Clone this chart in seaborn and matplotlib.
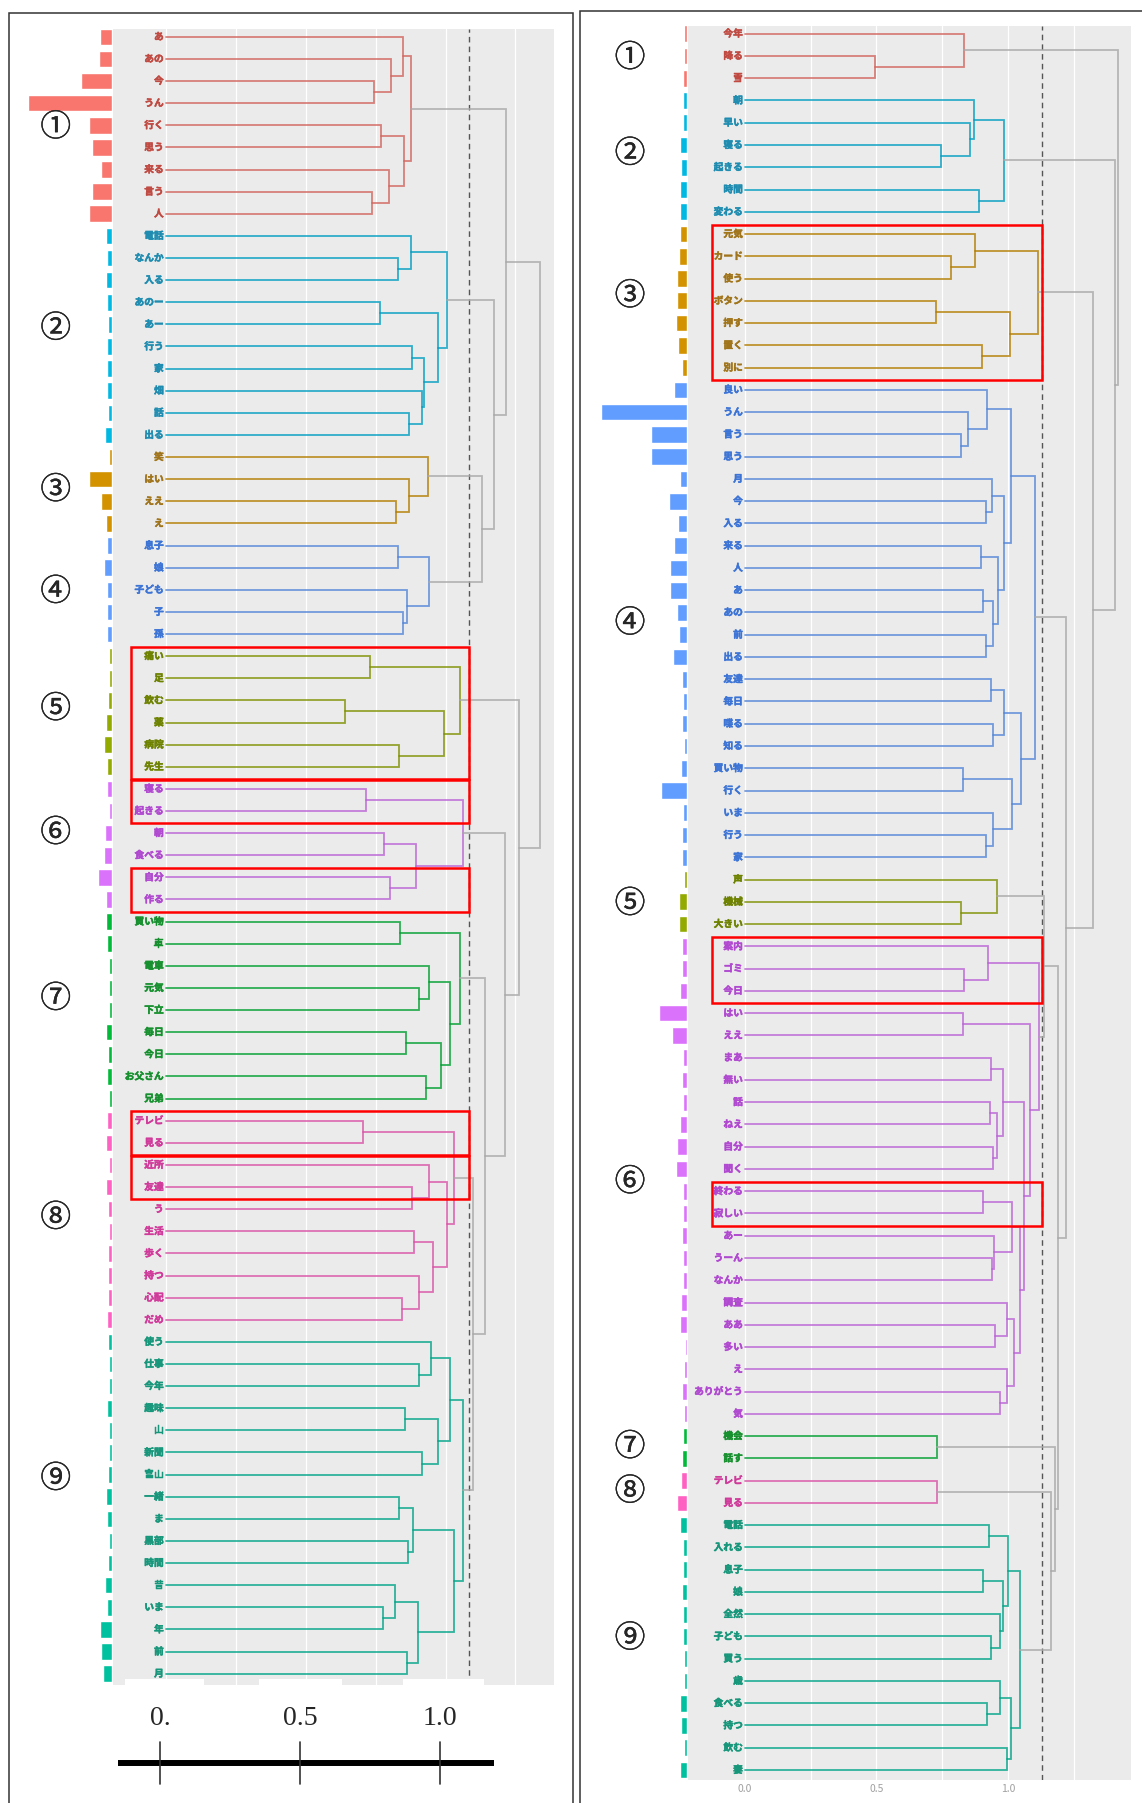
import numpy as np
import pandas as pd
import seaborn as sns
import matplotlib.pyplot as plt
import matplotlib.colors as mcolors
import matplotlib.patheffects as pe
from matplotlib.patches import Rectangle
from matplotlib.transforms import blended_transform_factory

sns.set_style("white")
plt.rcParams["font.family"] = ["Noto Sans CJK JP", "DejaVu Sans"]

W, H = 1142, 1803

CLUSTER_COLORS = ["#F8766D", "#00B9E3", "#D39200", "#619CFF", "#93AA00",
                  "#DB72FB", "#00BA38", "#FF61C3", "#00C19F"]
TEXT_COLORS = ["#C04A42", "#1E8CB0", "#A0741A", "#3C74D6", "#6E8200",
               "#B048D0", "#16902E", "#D03A9A", "#16967A"]
CIRCLED = ["①", "②", "③", "④", "⑤", "⑥", "⑦", "⑧", "⑨"]
GRAY_LINK = "#A8A8A8"

# ---------------- left dendrogram ----------------
left_words = [
    ["あ", "あの", "今", "うん", "行く", "思う", "来る", "言う", "人"],
    ["電話", "なんか", "入る", "あのー", "あー", "行う", "家", "畑", "話", "出る"],
    ["笑", "はい", "ええ", "え"],
    ["息子", "娘", "子ども", "子", "孫"],
    ["痛い", "足", "飲む", "薬", "病院", "先生"],
    ["寝る", "起きる", "朝", "食べる", "自分", "作る"],
    ["買い物", "車", "電車", "元気", "下立", "毎日", "今日", "お父さん", "兄弟"],
    ["テレビ", "見る", "近所", "友達", "う", "生活", "歩く", "持つ", "心配", "だめ"],
    ["使う", "仕事", "今年", "趣味", "山", "新聞", "富山", "一緒", "ま", "黒部",
     "時間", "昔", "いま", "年", "前", "月"],
]
left_counts = [
    [16, 18, 42, 115, 32, 27, 15, 27, 32],
    [9, 7, 8, 7, 6, 7, 7, 7, 6, 10],
    [5, 32, 15, 9],
    [7, 11, 7, 7, 7],
    [5, 4, 6, 8, 11, 7],
    [7, 4, 10, 11, 19, 8],
    [9, 7, 5, 4, 5, 9, 6, 7, 4],
    [7, 9, 5, 9, 6, 4, 6, 6, 6, 7],
    [6, 5, 5, 7, 5, 4, 6, 8, 7, 5, 6, 10, 7, 17, 15, 12],
]
# merge tree: (height, left, right)
L1 = (0.877, (0.847, "あ", (0.804, "あの", (0.744, "今", "うん"))),
      (0.850, (0.770, "行く", "思う"), (0.797, "来る", (0.736, "言う", "人"))))
L2 = (1.005, (0.877, "電話", (0.829, "なんか", "入る")),
      (0.974, (0.767, "あのー", "あー"),
       (0.923, (0.880, "行う", "家"), (0.915, "畑", (0.871, "話", "出る")))))
L3 = (0.936, "笑", (0.869, "はい", (0.822, "ええ", "え")))
L4 = (0.942, (0.830, "息子", "娘"), (0.862, "子ども", (0.847, "子", "孫")))
L5 = (1.051, (0.729, "痛い", "足"), (0.994, (0.640, "飲む", "薬"), (0.833, "病院", "先生")))
L6 = (1.064, (0.715, "寝る", "起きる"), (0.893, (0.780, "朝", "食べる"), (0.800, "自分", "作る")))
L7 = (1.053, (0.838, "買い物", "車"),
      (1.015, (0.942, "電車", (0.906, "元気", "下立")),
       (0.984, (0.860, "毎日", "今日"), (0.932, "お父さん", "兄弟"))))
L8 = (1.031, (0.704, "テレビ", "見る"),
      (1.005, (0.940, "近所", (0.880, "友達", "う")),
       (0.956, (0.889, "生活", "歩く"), (0.904, "持つ", (0.846, "心配", "だめ")))))
L9 = (1.062,
      (1.015, (0.947, "使う", (0.906, "仕事", "今年")),
       (0.973, (0.856, "趣味", "山"), (0.917, "新聞", "富山"))),
      (1.032, (0.884, (0.833, "一緒", "ま"), (0.867, "黒部", "時間")),
       (0.900, (0.821, "昔", (0.778, "いま", "年")), (0.863, "前", "月"))))
left_tree = (1.338, (1.217, L1, (1.175, L2, (1.132, L3, L4))),
             (1.263, L5, (1.212, L6, (1.142, L7, (1.100, L8, L9)))))
left_cut = 1.085
left_boxes = [("痛い", "先生"), ("寝る", "起きる"), ("自分", "作る"),
              ("テレビ", "見る"), ("近所", "友達")]

# ---------------- right dendrogram ----------------
right_words = [
    ["今年", "降る", "雪"],
    ["朝", "早い", "寝る", "起きる", "時間", "変わる"],
    ["元気", "カード", "使う", "ボタン", "押す", "置く", "別に"],
    ["良い", "うん", "言う", "思う", "月", "今", "入る", "来る", "人", "あ", "あの",
     "前", "出る", "友達", "毎日", "喋る", "知る", "買い物", "行く", "いま", "行う", "家"],
    ["声", "機械", "大きい"],
    ["案内", "ゴミ", "今日", "はい", "ええ", "まあ", "無い", "話", "ねえ", "自分", "聞く",
     "終わる", "寂しい", "あー", "うーん", "なんか", "調査", "ああ", "多い", "え",
     "ありがとう", "気"],
    ["機会", "話す"],
    ["テレビ", "見る"],
    ["電話", "入れる", "息子", "娘", "全然", "子ども", "買う", "歳", "食べる", "持つ",
     "飲む", "妻"],
]
right_counts = [
    [5, 5, 6],
    [6, 6, 10, 9, 10, 11],
    [10, 12, 14, 14, 16, 13, 8],
    [19, 119, 51, 50, 11, 25, 13, 18, 24, 24, 15, 12, 20, 7, 6, 8, 5, 9, 36, 6, 8, 8],
    [5, 12, 12],
    [8, 7, 10, 40, 22, 6, 7, 6, 10, 14, 16, 6, 6, 7, 6, 6, 9, 10, 4, 5, 7, 5],
    [6, 7],
    [9, 15],
    [11, 6, 6, 7, 6, 6, 5, 5, 10, 9, 5, 10],
]
R1 = (0.832, "今年", (0.494, "降る", "雪"))
R2 = (0.986, (0.872, "朝", (0.857, "早い", (0.746, "寝る", "起きる"))), (0.890, "時間", "変わる"))
R3 = (1.114, (0.875, "元気", (0.784, "カード", "使う")),
      (1.007, (0.726, "ボタン", "押す"), (0.902, "置く", "別に")))
R4 = (1.103,
      (1.011, (0.919, "良い", (0.850, "うん", (0.820, "言う", "思う"))),
       (0.986, (0.941, "月", (0.916, "今", "入る")),
        (0.963, (0.896, "来る", "人"), (0.942, (0.905, "あ", "あの"), (0.916, "前", "出る"))))),
      (1.048, (0.986, (0.935, "友達", "毎日"), (0.944, "喋る", "知る")),
       (1.017, (0.829, "買い物", "行く"), (0.942, "いま", (0.916, "行う", "家")))))
R5 = (0.960, "声", (0.823, "機械", "大きい"))
R6 = (1.117, (0.923, "案内", (0.832, "ゴミ", "今日")),
      (1.084, (0.828, "はい", "ええ"),
       (1.063, (0.981, (0.935, "まあ", "無い"), (0.959, (0.931, "話", "ねえ"), (0.942, "自分", "聞く"))),
        (1.047, (1.015, (0.906, "終わる", "寂しい"), (0.946, "あー", (0.938, "うーん", "なんか"))),
         (1.022, (0.995, "調査", (0.952, "ああ", "多い")), (0.996, "え", (0.971, "ありがとう", "気")))))))
R7 = (0.732, "機会", "話す")
R8 = (0.729, "テレビ", "見る")
R9 = (1.045,
      (0.999, (0.930, "電話", "入れる"),
       (0.981, (0.907, "息子", "娘"), (0.970, "全然", (0.935, "子ども", "買う")))),
      (1.012, (0.971, "歳", (0.920, "食べる", "持つ")), (0.995, "飲む", "妻")))
right_tree = (1.420, R1, (1.406, R2, (1.325, R3, (1.220, R4,
              (1.191, (1.139, R5, R6), (1.179, R7, (1.165, R8, R9)))))))
right_cut = 1.128
right_boxes = [("元気", "別に"), ("案内", "今日"), ("終わる", "寂しい")]

# ---------------- layout (pixels) ----------------
LEFT_LAYOUT = dict(gray=(113, 29, 553.7, 1685), leaf0=36.8, step=22.12, zero=166,
                   unit=279.5, bar_right=112.2, bar_px=0.7333, num_x=55.7,
                   num_pos=[4.1, 13.2, 20.5, 25.1, 30.4, 36.0, 43.5, 53.4, 65.2])
RIGHT_LAYOUT = dict(gray=(688.2, 26, 1130.8, 1780), leaf0=33.7, step=22.26, zero=745,
                    unit=262.9, bar_right=687.5, bar_px=0.7233, num_x=630,
                    num_pos=[1.1, 5.4, 11.8, 26.5, 39.1, 51.6, 63.5, 65.5, 72.1])

fig = plt.figure(figsize=(W / 100, H / 100), dpi=100)


def px_axes(x0, y0, x1, y1):
    return fig.add_axes([x0 / W, 1 - y1 / H, (x1 - x0) / W, (y1 - y0) / H])


def leaf_order(node):
    if isinstance(node, str):
        return [node]
    return leaf_order(node[1]) + leaf_order(node[2])


def draw_tree(ax, node, pos, cl_of, line_cols):
    if isinstance(node, str):
        return pos[node], 0.0, {cl_of[node]}
    h, a, b = node
    ya, ha, ca = draw_tree(ax, a, pos, cl_of, line_cols)
    yb, hb, cb = draw_tree(ax, b, pos, cl_of, line_cols)
    cs = ca | cb
    col = line_cols[next(iter(cs))] if len(cs) == 1 else GRAY_LINK
    ax.plot([ha, h, h, hb], [ya, ya, yb, yb], color=col, lw=1.3, alpha=0.8,
            solid_joinstyle="miter", zorder=3)
    return (ya + yb) / 2, h, cs


def draw_panel(lay, words_by_cl, counts_by_cl, tree, cut, boxes, show_ticks):
    words = [w for grp in words_by_cl for w in grp]
    counts = [c for grp in counts_by_cl for c in grp]
    clusters = [k for k, grp in enumerate(words_by_cl) for _ in grp]
    assert leaf_order(tree) == words
    pos = {w: i for i, w in enumerate(words)}
    cl_of = dict(zip(words, clusters))

    gx0, gy0, gx1, gy1 = lay["gray"]
    ylim = ((gy1 - lay["leaf0"]) / lay["step"], (gy0 - lay["leaf0"]) / lay["step"])
    xlim = ((gx0 - lay["zero"]) / lay["unit"], (gx1 - lay["zero"]) / lay["unit"])

    # dendrogram
    ax = px_axes(gx0, gy0, gx1, gy1)
    ax.set_facecolor("#EBEBEB")
    line_cols = [tuple(np.array(mcolors.to_rgb(c)) * 0.85) for c in CLUSTER_COLORS]
    draw_tree(ax, tree, pos, cl_of, line_cols)
    for i, w in enumerate(words):
        col = TEXT_COLORS[clusters[i]]
        ax.text(-0.008, i, w, ha="right", va="center", fontsize=7, fontweight="bold",
                color=col, zorder=4,
                path_effects=[pe.withStroke(linewidth=0.35, foreground=col)])
    ax.axvline(cut, color="#555555", lw=1.0, ls=(0, (4, 3)), zorder=2)
    for a, b in boxes:
        y0, y1 = pos[a] - 0.42, pos[b] + 0.55
        ax.add_patch(Rectangle((-0.125, y0), cut + 0.125, y1 - y0, fill=False,
                               edgecolor="red", lw=1.8, zorder=6, clip_on=False))
    ax.set_xlim(xlim)
    ax.set_ylim(ylim)
    ax.set_xticks([0, 0.5, 1.0])
    ax.set_xticks([0.25, 0.75, 1.25], minor=True)
    ax.set_yticks([])
    ax.grid(True, which="both", axis="x", color="white", lw=0.9, zorder=0)
    ax.set_axisbelow(True)
    for s in ax.spines.values():
        s.set_visible(False)
    if show_ticks:
        ax.set_xticklabels(["0.0", "0.5", "1.0"], color="#A0A0A0", fontsize=7.5)
        ax.tick_params(axis="x", which="both", length=0, pad=3)
    else:
        ax.tick_params(axis="x", which="both", length=0, labelbottom=False)

    # frequency bars
    bw = 100
    bax = px_axes(lay["bar_right"] - bw, gy0, lay["bar_right"], gy1)
    df = pd.DataFrame({"word": words, "count": counts,
                       "cluster": [str(k) for k in clusters]})
    pal = {str(k): c for k, c in enumerate(CLUSTER_COLORS)}
    sns.barplot(data=df, x="count", y="word", hue="cluster", palette=pal, order=words,
                hue_order=[str(k) for k in range(9)], orient="h", dodge=False,
                width=0.75, saturation=1, legend=False, ax=bax)
    bax.set_xlim(bw / lay["bar_px"], 0)
    bax.set_ylim(ylim)
    bax.axis("off")

    tr = blended_transform_factory(fig.transFigure, bax.transData)
    for k, p in enumerate(lay["num_pos"]):
        bax.text(lay["num_x"] / W, p, CIRCLED[k], transform=tr, ha="center", va="center",
                 fontsize=22, family=["DejaVu Serif", "Noto Sans CJK JP"], clip_on=False,
                 path_effects=[pe.withStroke(linewidth=0.25, foreground="black")])
    return ax


left_ax = draw_panel(LEFT_LAYOUT, left_words, left_counts, left_tree, left_cut,
                     left_boxes, show_ticks=False)
right_ax = draw_panel(RIGHT_LAYOUT, right_words, right_counts, right_tree, right_cut,
                      right_boxes, show_ticks=True)

# hand-drawn style scale under the left panel
hax = px_axes(113, 1688, 553.7, 1800)
hax.set_xlim(left_ax.get_xlim())
hax.set_ylim(1800, 1688)
hax.axis("off")
hax.plot([-0.172, 1.172], [1763, 1763], color="black", lw=4.3, solid_capstyle="butt")
for t, lab in zip([0.0, 0.5, 1.0], ["0.", "0.5", "1.0"]):
    hax.plot([t - 0.02, t - 0.02], [1742, 1784], color="#333333", lw=1.2)
    hax.text(t - 0.02, 1718, lab, ha="center", va="center", fontsize=20,
             family=["Liberation Serif", "DejaVu Serif"])

# white patches covering the old tick labels, and the two frames
for x0, x1 in [(125, 204), (259, 342), (403, 484)]:
    fig.add_artist(Rectangle((x0 / W, 1 - 1687 / H), (x1 - x0) / W, 8 / H,
                             transform=fig.transFigure, facecolor="white",
                             edgecolor="none", zorder=5))
fig.add_artist(Rectangle((8.8 / W, 1 - 1812 / H), (573 - 8.8) / W, (1812 - 12.7) / H,
                         transform=fig.transFigure, fill=False, edgecolor="#333333",
                         lw=1.1, zorder=6))
fig.add_artist(Rectangle((580.4 / W, 1 - 1812 / H), (1150 - 580.4) / W, (1812 - 10.7) / H,
                         transform=fig.transFigure, fill=False, edgecolor="#333333",
                         lw=1.1, zorder=6))

fig.savefig("out.png", dpi=100, facecolor="white")
